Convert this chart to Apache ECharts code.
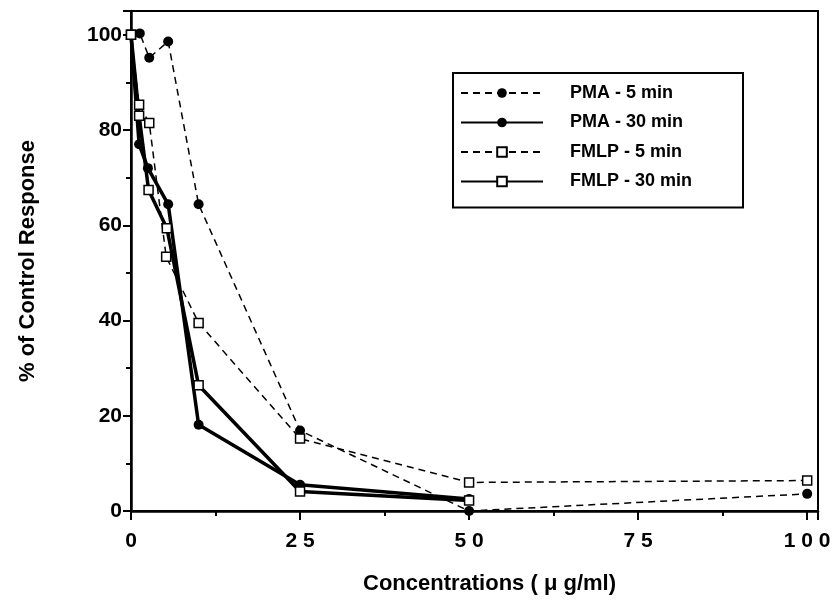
<!DOCTYPE html>
<html><head><meta charset="utf-8">
<script src="https://cdn.jsdelivr.net/npm/echarts@6/dist/echarts.min.js"></script>
<style>html,body{margin:0;padding:0;background:#fff}#c{width:837px;height:601px}</style>
</head><body><div id="c"></div>
<script>
const seriesNames = ['PMA - 5 min', 'PMA - 30 min', 'FMLP - 5 min', 'FMLP - 30 min'];
const xTicks = [0, 25, 50, 75, 100];
const yTicks = [0, 20, 40, 60, 80, 100];
const pma5x = [0, 1.3, 2.7, 5.5, 10, 25, 50, 100];
const pma5y = [100, 100.3, 95.2, 98.6, 64.4, 16.9, 0, 3.6];
const pma30x = [0, 1.2, 2.5, 5.5, 10, 25, 50];
const pma30y = [100, 77, 72, 64.4, 18.1, 5.5, 2.5];
const fmlp5x = [0, 1.2, 2.7, 5.2, 10, 25, 50, 100];
const fmlp5y = [100, 85.3, 81.5, 53.4, 39.5, 15.2, 6.0, 6.4];
const fmlp30x = [0, 1.2, 2.6, 5.3, 10, 25, 50];
const fmlp30y = [100, 83, 67.4, 59.4, 26.4, 4.1, 2.2];

const zip = (xs, ys) => xs.map((x, i) => [x, ys[i]]);
const font = 'Arial, "Liberation Sans", Helvetica, sans-serif';

function mk(name, xs, ys, solid, square) {
  return {
    name: name, type: 'line', data: zip(xs, ys),
    symbol: square ? 'rect' : 'circle',
    symbolSize: square ? 9 : 10,
    lineStyle: { color: '#000', width: solid ? 3.5 : 1.5, type: solid ? 'solid' : [7, 5] },
    itemStyle: square ? { color: '#fff', borderColor: '#000', borderWidth: 1.5 } : { color: '#000', borderColor: '#000', borderWidth: 0 },
    z: square ? 3 : 2,
    animation: false
  };
}

const chart = echarts.init(document.getElementById('c'), null, { renderer: 'canvas' });
chart.setOption({
  animation: false,
  backgroundColor: '#fff',
  grid: { left: 131, top: 11, right: 19, bottom: 90, show: true, borderColor: '#000', borderWidth: 2, backgroundColor: 'transparent' },
  xAxis: {
    type: 'value', min: 0, max: 101.6, interval: 25,
    axisLine: { show: true, lineStyle: { color: '#000', width: 2.5 } },
    axisTick: { show: true, length: 9, lineStyle: { color: '#000', width: 2 } },
    minorTick: { show: true, splitNumber: 2, length: 5, lineStyle: { color: '#000', width: 2 } },
    splitLine: { show: false },
    axisLabel: {
      margin: 20, color: '#000', fontSize: 21, fontWeight: 'bold', fontFamily: font,
      formatter: v => xTicks.includes(v) ? String(v).split('').join(' ') : ''
    },
    name: 'Concentrations ( \u03bc g/ml)', nameLocation: 'middle', nameGap: 62,
    nameTextStyle: { color: '#000', fontSize: 22, fontWeight: 'bold', fontFamily: font, padding: [0, 0, 0, 30] }
  },
  yAxis: {
    type: 'value', min: 0, max: 105, interval: 20,
    axisLine: { show: true, lineStyle: { color: '#000', width: 2.5 } },
    axisTick: { show: true, length: 8, lineStyle: { color: '#000', width: 2 } },
    minorTick: { show: true, splitNumber: 2, length: 5, lineStyle: { color: '#000', width: 2 } },
    splitLine: { show: false },
    axisLabel: {
      margin: 9, color: '#000', fontSize: 21, fontWeight: 'bold', fontFamily: font,
      formatter: v => yTicks.includes(v) ? String(v) : ''
    },
    name: '% of Control Response', nameLocation: 'middle', nameGap: 92,
    nameTextStyle: { color: '#000', fontSize: 22, fontWeight: 'bold', fontFamily: font }
  },
  legend: {
    orient: 'vertical', left: 453, top: 73,
    data: seriesNames,
    itemWidth: 82, itemHeight: 12, itemGap: 11.5,
    padding: [11, 51, 17, 7],
    borderColor: '#000', borderWidth: 2, backgroundColor: '#fff',
    textStyle: { color: '#000', fontSize: 18, fontWeight: 'bold', fontFamily: font, padding: [0, 0, 0, 22] }
  },
  series: [
    mk(seriesNames[0], pma5x, pma5y, false, false),
    mk(seriesNames[1], pma30x, pma30y, true, false),
    mk(seriesNames[2], fmlp5x, fmlp5y, false, true),
    mk(seriesNames[3], fmlp30x, fmlp30y, true, true)
  ]
});
</script></body></html>
